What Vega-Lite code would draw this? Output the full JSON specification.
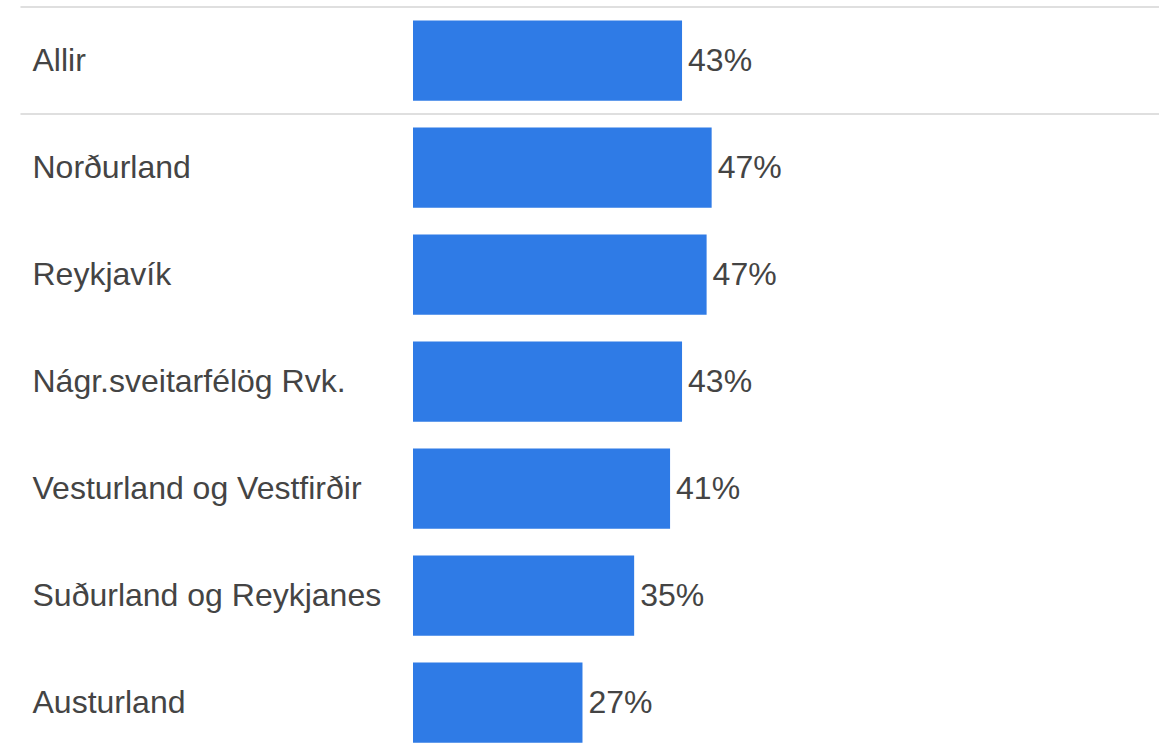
{
  "$schema": "https://vega.github.io/schema/vega-lite/v6.json",
  "autosize": {"type": "none"},
  "padding": {"left": 413, "top": 7, "right": 0, "bottom": 0},
  "width": 746,
  "height": 749,
  "background": "white",
  "config": {"view": {"stroke": null}, "font": "Liberation Sans"},
  "data": {"values": [
    {"region": "Allir", "share": 0.427},
    {"region": "Norðurland", "share": 0.474},
    {"region": "Reykjavík", "share": 0.466},
    {"region": "Nágr.sveitarfélög Rvk.", "share": 0.427},
    {"region": "Vesturland og Vestfirðir", "share": 0.408},
    {"region": "Suðurland og Reykjanes", "share": 0.351},
    {"region": "Austurland", "share": 0.269}
  ]},
  "encoding": {
    "y": {"field": "region", "type": "nominal", "sort": null,
          "scale": {"paddingInner": 0.25, "paddingOuter": 0.125},
          "axis": {"title": null, "ticks": false, "domain": false, "labelAlign": "left", "labelPadding": 381, "labelFontSize": 32, "labelColor": "#444444", "labelFont": "Liberation Sans", "labelLimit": 400}}
  },
  "layer": [
    {
      "mark": {"type": "bar", "color": "#2f7be6"},
      "encoding": {
        "x": {"field": "share", "type": "quantitative", "axis": null, "scale": {"domain": [0, 1.184], "nice": false}}
      }
    },
    {
      "mark": {"type": "text", "align": "left", "baseline": "middle", "dx": 6, "fontSize": 32, "color": "#444444", "font": "Liberation Sans"},
      "encoding": {
        "x": {"field": "share", "type": "quantitative"},
        "text": {"field": "share", "type": "quantitative", "format": ".0%"}
      }
    },
    {
      "transform": [{"filter": "datum.region === 'Allir' || datum.region === 'Norðurland'"}],
      "mark": {"type": "rule", "color": "#d4d4d4", "strokeWidth": 1.5},
      "encoding": {
        "y": {"field": "region", "type": "nominal", "sort": null, "bandPosition": -0.1667},
        "x": {"datum": -0.623, "type": "quantitative"},
        "x2": {"datum": 1.184}
      }
    }
  ]
}
